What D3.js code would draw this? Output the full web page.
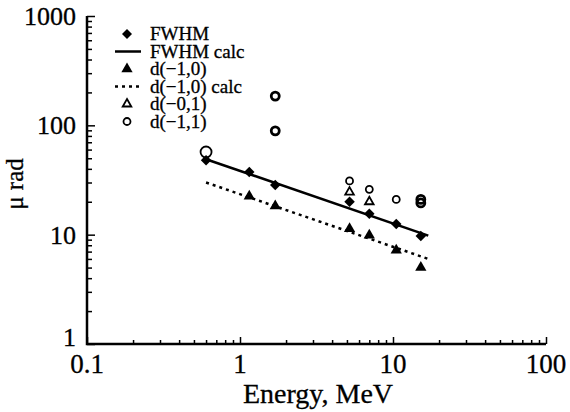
<!DOCTYPE html>
<html>
<head>
<meta charset="utf-8">
<script src="https://cdn.jsdelivr.net/npm/d3@7"></script>
<style>
  body { margin: 0; background: #fff; }
  text { font-family: "Liberation Serif", "Times New Roman", serif; fill: #000; stroke: #000; stroke-width: 0.3; }
</style>
</head>
<body>
<div id="chart"></div>
<script>
// values
const fwhmE = [0.6, 1.15, 1.7, 5.2, 7.0, 10.5, 15.2];
const fwhmV = [48, 37.5, 28.5, 20, 15.5, 12.5, 9.7];
const fwhmCalcE = [0.6, 17];
const fwhmCalcV = [49, 9.8];
const d10E = [1.15, 1.7, 5.2, 7.0, 10.5, 15.2];
const d10V = [22.5, 18.3, 11.3, 9.9, 7.2, 5.0];
const d10CalcE = [0.6, 17];
const d10CalcV = [30, 6.0];
const d01E = [5.2, 7.0];
const d01V = [24.5, 20];
const d11E = [0.6, 1.7, 1.7, 5.2, 7.0, 10.5, 15.2, 15.2];
const d11V = [57, 185, 89, 31, 26, 21, 21, 19.5];
const xTicks = [0.1, 1, 10, 100];
const yTicks = [1, 10, 100, 1000];
const legendLabels = ["FWHM", "FWHM calc", "d(\u22121,0)", "d(\u22121,0) calc", "d(\u22120,1)", "d(\u22121,1)"];

const width = 570, height = 412;
const x0 = 87, x1 = 546, y0 = 344, y1 = 16;

const svg = d3.select("#chart").append("svg")
  .attr("width", width).attr("height", height);

const x = d3.scaleLog().domain([0.1, 100]).range([x0, x1]);
const y = d3.scaleLog().domain([1, 1000]).range([y0, y1]);

// minor ticks
function minors(lo, hi) {
  const out = [];
  for (let p = lo; p < hi; p *= 10)
    for (let k = 2; k <= 9; k++) out.push(p * k);
  return out;
}

const xAxis = d3.axisBottom(x).tickValues(xTicks).tickSize(-7).tickFormat("");
const xMinor = d3.axisBottom(x).tickValues(minors(0.1, 100)).tickSize(-4).tickFormat("");
const yAxis = d3.axisLeft(y).tickValues(yTicks).tickSize(-8).tickFormat("");
const yMinor = d3.axisLeft(y).tickValues(minors(1, 1000)).tickSize(-5).tickFormat("");

[xAxis, xMinor].forEach(a => {
  const g = svg.append("g").attr("transform", `translate(0,${y0})`).call(a);
  g.select(".domain").remove();
  g.selectAll("line").attr("stroke", "#000").attr("stroke-width", 1.5);
});
[yAxis, yMinor].forEach(a => {
  const g = svg.append("g").attr("transform", `translate(${x0},0)`).call(a);
  g.select(".domain").remove();
  g.selectAll("line").attr("stroke", "#000").attr("stroke-width", 1.5);
});

svg.append("path")
  .attr("d", `M${x0},${y1}V${y0}H${x1}`)
  .attr("fill", "none").attr("stroke", "#000").attr("stroke-width", 2.5);

// tick labels
svg.append("g").selectAll("text").data(xTicks).enter().append("text")
  .attr("x", d => x(d)).attr("y", 373)
  .attr("text-anchor", "middle").attr("font-size", 27)
  .text(d => d);
svg.append("g").selectAll("text").data(yTicks).enter().append("text")
  .attr("x", 76).attr("y", d => d === 1 ? y(d) + 2 : y(d) + 9)
  .attr("text-anchor", "end").attr("font-size", 26)
  .text(d => d);

svg.append("text").attr("x", 318).attr("y", 403)
  .attr("text-anchor", "middle").attr("font-size", 28)
  .text("Energy, MeV");
svg.append("text")
  .attr("transform", "translate(23,184) rotate(-90)")
  .attr("text-anchor", "middle").attr("font-size", 25)
  .text("\u03bc rad");

// lines
const line = d3.line().x(d => x(d[0])).y(d => y(d[1]));
svg.append("path").datum(d3.zip(fwhmCalcE, fwhmCalcV))
  .attr("d", line).attr("fill", "none").attr("stroke", "#000").attr("stroke-width", 2.5);
svg.append("path").datum(d3.zip(d10CalcE, d10CalcV))
  .attr("d", line).attr("fill", "none").attr("stroke", "#000").attr("stroke-width", 2.5)
  .attr("stroke-dasharray", "3,4");

const square = d3.symbol().type(d3.symbolSquare).size(55)();
const tri = d3.symbol().type(d3.symbolTriangle).size(55)();
const triSmall = d3.symbol().type(d3.symbolTriangle).size(32)();

svg.append("g").selectAll("path").data(d3.zip(fwhmE, fwhmV)).enter().append("path")
  .attr("d", square)
  .attr("transform", d => `translate(${x(d[0])},${y(d[1])}) rotate(45)`)
  .attr("fill", "#000");

svg.append("g").selectAll("path").data(d3.zip(d10E, d10V)).enter().append("path")
  .attr("transform", d => `translate(${x(d[0])},${y(d[1])})`)
  .attr("d", tri).attr("fill", "#000");

svg.append("g").selectAll("path").data(d3.zip(d01E, d01V)).enter().append("path")
  .attr("transform", d => `translate(${x(d[0])},${y(d[1])})`)
  .attr("d", triSmall).attr("fill", "#fff").attr("stroke", "#000").attr("stroke-width", 1.8);

svg.append("g").selectAll("circle").data(d3.zip(d11E, d11V)).enter().append("circle")
  .attr("cx", d => x(d[0])).attr("cy", d => y(d[1]))
  .attr("r", (d, i) => i === 0 ? 5.5 : (i === 1 || i === 2 || i >= 6) ? 4 : 3.5)
  .attr("fill", "none").attr("stroke", "#000")
  .attr("stroke-width", (d, i) => (i === 1 || i === 2 || i >= 6) ? 2.8 : 1.8);

// legend
const lx = 127, ly = 34, dy = 17.5;
const leg = svg.append("g");
legendLabels.forEach((t, i) => {
  leg.append("text").attr("x", lx + 23).attr("y", ly + i * dy + 6)
    .attr("font-size", 19).text(t);
});
leg.append("path").attr("transform", `translate(${lx},${ly}) rotate(45)`)
  .attr("d", d3.symbol().type(d3.symbolSquare).size(50)()).attr("fill", "#000");
leg.append("line").attr("x1", lx - 12).attr("x2", lx + 14)
  .attr("y1", ly + dy).attr("y2", ly + dy).attr("stroke", "#000").attr("stroke-width", 2.5);
leg.append("path").attr("transform", `translate(${lx},${ly + 2 * dy})`)
  .attr("d", tri).attr("fill", "#000");
leg.append("line").attr("x1", lx - 12).attr("x2", lx + 14)
  .attr("y1", ly + 3 * dy).attr("y2", ly + 3 * dy).attr("stroke", "#000").attr("stroke-width", 2.5)
  .attr("stroke-dasharray", "3,4");
leg.append("path").attr("transform", `translate(${lx},${ly + 4 * dy})`)
  .attr("d", triSmall).attr("fill", "#fff").attr("stroke", "#000").attr("stroke-width", 1.8);
leg.append("circle").attr("cx", lx).attr("cy", ly + 5 * dy).attr("r", 3.5)
  .attr("fill", "none").attr("stroke", "#000").attr("stroke-width", 1.8);
</script>
</body>
</html>
